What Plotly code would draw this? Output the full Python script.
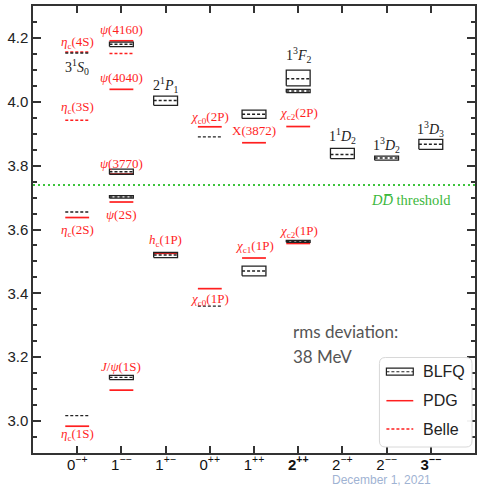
import plotly.graph_objects as go

# ---------------- data ----------------
categories = ["0-+", "1--", "1+-", "0++", "1++", "2++", "2-+", "2--", "3--"]
tick_labels = ["0<sup>−+</sup>", "1<sup>−−</sup>", "1<sup>+−</sup>", "0<sup>++</sup>",
               "1<sup>++</sup>", "<b>2<sup>++</sup></b>", "2<sup>−+</sup>",
               "2<sup>−−</sup>", "<b>3<sup>−−</sup></b>"]

# BLFQ predictions: category, mass (GeV), lower, upper
blfq_cat = ["0-+", "0-+", "0-+", "1--", "1--", "1--", "1--", "1+-", "1+-",
            "0++", "0++", "1++", "1++", "2++", "2++", "2++", "2-+", "2--", "3--"]
blfq_mass = [3.017, 3.655, 4.153, 3.137, 3.702, 3.781, 4.180, 3.520, 4.004,
             3.360, 3.890, 3.470, 3.961, 3.563, 4.034, 4.072, 3.835, 3.824, 3.867]
blfq_lo = [3.017, 3.655, 4.153, 3.130, 3.698, 3.773, 4.173, 3.512, 3.989,
           3.360, 3.890, 3.455, 3.948, 3.560, 4.029, 4.050, 3.822, 3.817, 3.851]
blfq_hi = [3.017, 3.655, 4.153, 3.143, 3.706, 3.789, 4.187, 3.528, 4.018,
           3.360, 3.890, 3.485, 3.974, 3.566, 4.039, 4.099, 3.854, 3.830, 3.882]

# PDG masses
pdg_cat = ["0-+", "0-+", "1--", "1--", "1--", "1--", "1--", "1+-", "0++", "0++",
           "1++", "1++", "2++", "2++"]
pdg_mass = [2.9839, 3.6375, 3.0969, 3.6861, 3.7737, 4.039, 4.191, 3.5254,
            3.4147, 3.9217, 3.5107, 3.8717, 3.5562, 3.9225]

# Belle masses
belle_cat = ["0-+", "0-+", "1--"]
belle_mass = [3.942, 4.156, 4.151]

threshold = 3.739
y_ticks = [3.0, 3.2, 3.4, 3.6, 3.8, 4.0, 4.2]

# labels: text, category, y-position
red_labels = [
    ("<i>η</i><sub>c</sub>(4S)", "0-+", 4.187),
    ("<i>η</i><sub>c</sub>(3S)", "0-+", 3.982),
    ("<i>η</i><sub>c</sub>(2S)", "0-+", 3.596),
    ("<i>η</i><sub>c</sub>(1S)", "0-+", 2.958),
    ("<i>ψ</i>(4160)", "1--", 4.227),
    ("<i>ψ</i>(4040)", "1--", 4.075),
    ("<i>ψ</i>(3770)", "1--", 3.808),
    ("<i>ψ</i>(2S)", "1--", 3.648),
    ("<i>J</i>/<i>ψ</i>(1S)", "1--", 3.170),
    ("<i>h</i><sub>c</sub>(1P)", "1+-", 3.566),
    ("<i>χ</i><sub>c0</sub>(2P)", "0++", 3.951),
    ("<i>χ</i><sub>c0</sub>(1P)", "0++", 3.382),
    ("X(3872)", "1++", 3.911),
    ("<i>χ</i><sub>c1</sub>(1P)", "1++", 3.548),
    ("<i>χ</i><sub>c2</sub>(2P)", "2++", 3.963),
    ("<i>χ</i><sub>c2</sub>(1P)", "2++", 3.594),
]
black_labels = [
    ("3<sup>1</sup><i>S</i><sub>0</sub>", "0-+", 4.109),
    ("2<sup>1</sup><i>P</i><sub>1</sub>", "1+-", 4.052),
    ("1<sup>3</sup><i>F</i><sub>2</sub>", "2++", 4.145),
    ("1<sup>1</sup><i>D</i><sub>2</sub>", "2-+", 3.894),
    ("1<sup>3</sup><i>D</i><sub>2</sub>", "2--", 3.865),
    ("1<sup>3</sup><i>D</i><sub>3</sub>", "3--", 3.916),
]

# ---------------- figure ----------------
HW = 0.27
RED = "#ff1f1f"
pos = {c: i + 1 for i, c in enumerate(categories)}

fig = go.Figure()

# threshold
fig.add_trace(go.Scatter(x=[0, 10], y=[threshold, threshold], mode="lines",
                         line=dict(color="#3cc43c", width=2, dash="2px,3px"),
                         hoverinfo="skip", showlegend=False))

# PDG
px_, py_ = [], []
for c, m in zip(pdg_cat, pdg_mass):
    px_ += [pos[c] - HW, pos[c] + HW, None]
    py_ += [m, m, None]
fig.add_trace(go.Scatter(x=px_, y=py_, mode="lines", line=dict(color=RED, width=1.7),
                         showlegend=False))

# Belle
bx, by = [], []
for c, m in zip(belle_cat, belle_mass):
    bx += [pos[c] - HW, pos[c] + HW, None]
    by += [m, m, None]
fig.add_trace(go.Scatter(x=bx, y=by, mode="lines",
                         line=dict(color=RED, width=1.5, dash="3px,2px"), showlegend=False))

# BLFQ boxes
rx, ry = [], []
for c, lo, hi in zip(blfq_cat, blfq_lo, blfq_hi):
    if hi - lo <= 0:
        continue
    x0, x1 = pos[c] - HW, pos[c] + HW
    rx += [x0, x1, x1, x0, x0, None]
    ry += [lo, lo, hi, hi, lo, None]
fig.add_trace(go.Scatter(x=rx, y=ry, mode="lines", line=dict(color="#222", width=1.3),
                         showlegend=False))

# BLFQ central
cx, cy = [], []
for c, m in zip(blfq_cat, blfq_mass):
    cx += [pos[c] - HW, pos[c] + HW, None]
    cy += [m, m, None]
fig.add_trace(go.Scatter(x=cx, y=cy, mode="lines",
                         line=dict(color="#222", width=1.4, dash="3px,2px"), showlegend=False))

ann = []
for t, c, y in red_labels:
    ann.append(dict(x=pos[c], y=y, text=t, showarrow=False, xanchor="center", yanchor="middle",
                    font=dict(family="Liberation Serif", size=13, color=RED)))
for t, c, y in black_labels:
    ann.append(dict(x=pos[c], y=y, text=t, showarrow=False, xanchor="center", yanchor="middle",
                    font=dict(family="Liberation Serif", size=14, color="#222")))

ann.append(dict(x=8.55, y=3.692, text="<i>D</i><i>D̅</i> threshold", showarrow=False,
                xanchor="center", yanchor="middle",
                font=dict(family="Liberation Serif", size=14.5, color="#3cb83c")))

# rms text
ann.append(dict(xref="paper", yref="paper", x=0.583, y=0.2714, text="rms deviation:",
                showarrow=False, xanchor="left", yanchor="middle",
                font=dict(family="Lato", size=17, color="#555")))
ann.append(dict(xref="paper", yref="paper", x=0.583, y=0.2155, text="38 MeV",
                showarrow=False, xanchor="left", yanchor="middle",
                font=dict(family="Lato", size=17, color="#555")))

# date
ann.append(dict(xref="paper", yref="paper", x=0.788, y=-0.0604, text="December 1, 2021",
                showarrow=False, xanchor="center", yanchor="middle",
                font=dict(family="Liberation Sans", size=12, color="#9fb3d3")))

# ---------- manual legend ----------
L = 33.0; W = 444.0; T = 6.0; H = 447.0
def px2x(p): return (p - L) / W
def py2y(p): return (T + H - p) / H

shapes = []
x0, x1, y0, y1, r = 381, 474, 357.5, 447, 6
path = (f"M {px2x(x0 + r)},{py2y(y0)} L {px2x(x1 - r)},{py2y(y0)} "
        f"Q {px2x(x1)},{py2y(y0)} {px2x(x1)},{py2y(y0 + r)} "
        f"L {px2x(x1)},{py2y(y1 - r)} Q {px2x(x1)},{py2y(y1)} {px2x(x1 - r)},{py2y(y1)} "
        f"L {px2x(x0 + r)},{py2y(y1)} Q {px2x(x0)},{py2y(y1)} {px2x(x0)},{py2y(y1 - r)} "
        f"L {px2x(x0)},{py2y(y0 + r)} Q {px2x(x0)},{py2y(y0)} {px2x(x0 + r)},{py2y(y0)} Z")
shapes.append(dict(type="path", path=path, xref="paper", yref="paper",
                   line=dict(color="#d8d8d8", width=1), fillcolor="rgba(255,255,255,0.95)",
                   layer="above"))
ly = [371.7, 400.7, 429]
shapes.append(dict(type="rect", xref="paper", yref="paper", x0=px2x(388), x1=px2x(415),
                   y0=py2y(ly[0] + 3.5), y1=py2y(ly[0] - 3.5),
                   line=dict(color="#222", width=1.2), layer="above"))
shapes.append(dict(type="line", xref="paper", yref="paper", x0=px2x(388), x1=px2x(415),
                   y0=py2y(ly[0]), y1=py2y(ly[0]),
                   line=dict(color="#222", width=1.1, dash="3px,2px"), layer="above"))
shapes.append(dict(type="line", xref="paper", yref="paper", x0=px2x(388), x1=px2x(415),
                   y0=py2y(ly[1]), y1=py2y(ly[1]), line=dict(color=RED, width=1.5),
                   layer="above"))
shapes.append(dict(type="line", xref="paper", yref="paper", x0=px2x(388), x1=px2x(415),
                   y0=py2y(ly[2]), y1=py2y(ly[2]),
                   line=dict(color=RED, width=1.4, dash="3px,2px"), layer="above"))
for name, yy in zip(["BLFQ", "PDG", "Belle"], ly):
    ann.append(dict(xref="paper", yref="paper", x=px2x(423), y=py2y(yy), text=name,
                    showarrow=False, xanchor="left", yanchor="middle",
                    font=dict(family="Liberation Sans", size=16, color="#222")))

fig.update_layout(
    width=477, height=486,
    margin=dict(l=33, r=0, t=6, b=33),
    plot_bgcolor="white", paper_bgcolor="white",
    showlegend=False,
    annotations=ann, shapes=shapes,
    xaxis=dict(range=[0, 10], tickvals=list(range(1, 10)), ticktext=tick_labels,
               ticks="inside", ticklen=7, tickwidth=1.5, tickcolor="#333",
               ticklabelstandoff=-3,
               showline=True, linecolor="#333", linewidth=1.5, mirror="ticks",
               showgrid=False, zeroline=False,
               tickfont=dict(family="Liberation Sans", size=15, color="#111")),
    yaxis=dict(range=[2.9, 4.3], tickvals=y_ticks, ticktext=[f"{v:.1f}" for v in y_ticks],
               ticks="inside", ticklen=8, tickwidth=1.5, tickcolor="#333",
               minor=dict(ticks="inside", ticklen=4, tickwidth=1.5, dtick=0.05, tick0=2.9,
                          tickcolor="#333"),
               showline=True, linecolor="#333", linewidth=1.5, mirror="ticks",
               showgrid=False, zeroline=False,
               tickfont=dict(family="Liberation Sans", size=15, color="#222")),
)

fig.write_html("out.html")
